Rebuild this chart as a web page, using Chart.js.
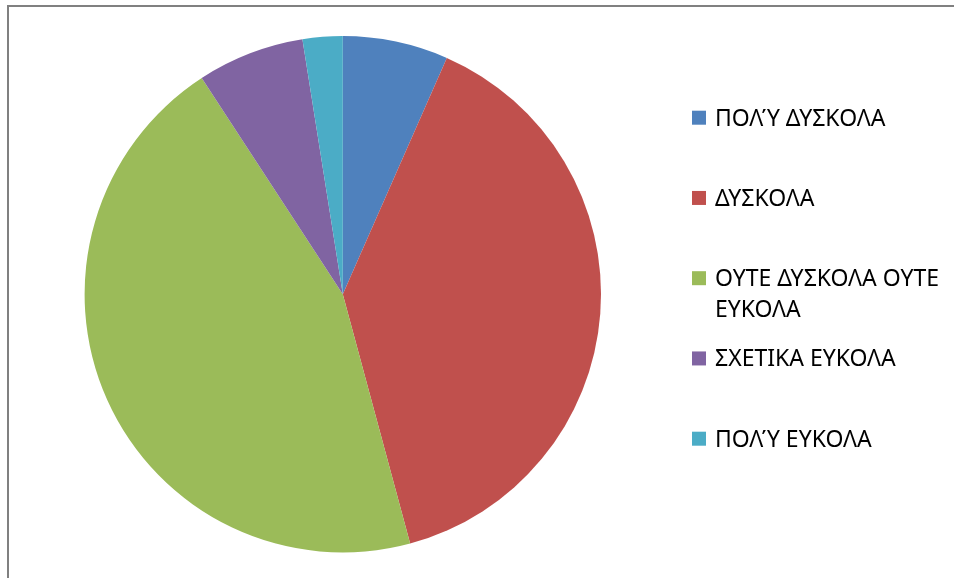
<!DOCTYPE html>
<html>
<head>
<meta charset="utf-8">
<title>Pie</title>
<script src="https://cdn.jsdelivr.net/npm/chart.js@4"></script>
<style>
  html, body { margin: 0; padding: 0; background: #fff; }
  #wrap { width: 954px; height: 578px; position: relative; }
</style>
</head>
<body>
<div id="wrap"><canvas id="pieChart" width="954" height="578"></canvas></div>
<script>
// answers (percent)
const labels = [
  'ΠΟΛΎ ΔΥΣΚΟΛΑ',
  'ΔΥΣΚΟΛΑ',
  ['ΟΥΤΕ ΔΥΣΚΟΛΑ ΟΥΤΕ', 'ΕΥΚΟΛΑ'],
  'ΣΧΕΤΙΚΑ ΕΥΚΟΛΑ',
  'ΠΟΛΎ ΕΥΚΟΛΑ'
];
const values = [6.6, 39.2, 45.0, 6.7, 2.5];
const colors = ['#4F81BD', '#C0504D', '#9BBB59', '#8064A2', '#4BACC6'];

const LEGEND_FONT = '23px "Noto Sans", "DejaVu Sans", sans-serif';

// grey frame on top and left
const framePlugin = {
  id: 'frame',
  beforeDraw(chart) {
    const ctx = chart.ctx;
    ctx.save();
    ctx.strokeStyle = '#808080';
    ctx.lineWidth = 2;
    ctx.beginPath();
    ctx.moveTo(8, 578);
    ctx.lineTo(8, 6);
    ctx.lineTo(954, 6);
    ctx.stroke();
    ctx.restore();
  }
};

// legend on the right: one slot per entry, long label wraps inside its slot
const sideLegend = {
  id: 'sideLegend',
  afterDraw(chart) {
    const ctx = chart.ctx;
    const lineH = 30.6, slot = 80.25, top = 125.7;
    ctx.save();
    ctx.font = LEGEND_FONT;
    ctx.textBaseline = 'alphabetic';
    chart.data.labels.forEach((lab, i) => {
      const lines = Array.isArray(lab) ? lab : [lab];
      const y = top + i * slot;
      ctx.fillStyle = chart.data.datasets[0].backgroundColor[i];
      ctx.fillRect(692, y - 15, 14, 14);
      ctx.fillStyle = '#000';
      lines.forEach((t, k) => ctx.fillText(t, 715, y + k * lineH));
    });
    ctx.restore();
  }
};

new Chart(document.getElementById('pieChart'), {
  type: 'pie',
  data: {
    labels: labels,
    datasets: [{
      data: values,
      backgroundColor: colors,
      borderWidth: 0
    }]
  },
  options: {
    responsive: false,
    animation: false,
    layout: { padding: { left: 84.6, right: 353, top: 36, bottom: 25.5 } },
    plugins: {
      legend: { display: false },
      tooltip: { enabled: false }
    }
  },
  plugins: [framePlugin, sideLegend]
});
</script>
</body>
</html>
